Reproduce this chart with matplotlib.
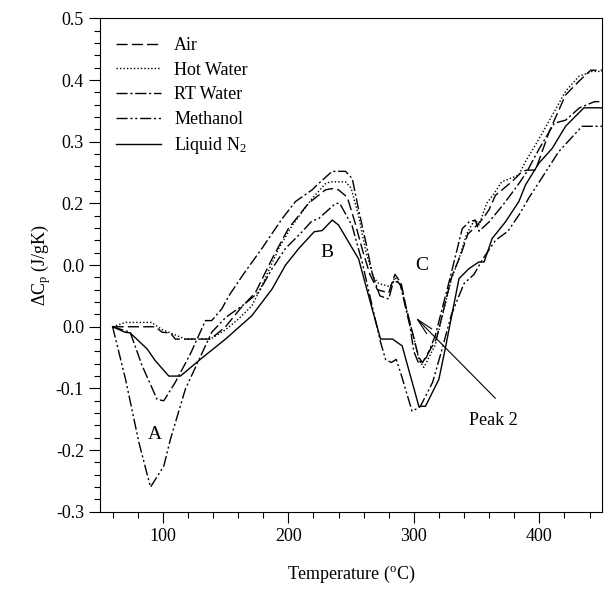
import matplotlib
matplotlib.use("Agg")
import matplotlib.pyplot as plt
from matplotlib.ticker import MultipleLocator, FixedLocator, FixedFormatter

plt.rcParams['font.family'] = ['Liberation Serif', 'DejaVu Serif']
plt.rcParams['mathtext.fontset'] = 'custom'
plt.rcParams['mathtext.rm'] = 'Liberation Serif'
plt.rcParams['mathtext.it'] = 'Liberation Serif:italic'

# --- data ---
air_t = [60, 94, 99.5, 106, 110, 138, 150, 162, 174, 187, 200, 216, 229.6, 235, 240, 247, 253, 259, 265,
         271, 280, 285, 290, 294, 299, 304, 307, 318, 330, 338, 343, 348, 355, 360, 365, 378, 386, 390,
         397, 408, 421, 431.5, 441, 450]
air_v = [0, 0, -0.009, -0.01, -0.02, -0.02, 0.0, 0.03, 0.056, 0.11, 0.159, 0.2, 0.222, 0.224, 0.222, 0.21,
         0.17, 0.125, 0.085, 0.06, 0.055, 0.085, 0.07, 0.03, -0.01, -0.05, -0.058, -0.02, 0.08, 0.12, 0.15,
         0.16, 0.175, 0.19, 0.213, 0.235, 0.251, 0.254, 0.254, 0.317, 0.376, 0.398, 0.416, 0.416]

hot_t = [60, 70, 91, 96, 100, 106, 112, 118, 138, 150, 160, 171, 179, 192.4, 203, 219, 229.6, 233.6, 245.6,
         250, 256, 262, 268, 272, 281, 285, 290, 294, 299, 304, 308, 317, 330, 336, 342, 346, 349, 352,
         358, 364, 370, 383.7, 389, 397, 407.6, 421, 431.5, 442, 450]
hot_v = [0, 0.007, 0.007, 0.0, -0.005, -0.01, -0.015, -0.02, -0.02, -0.005, 0.012, 0.034, 0.067, 0.127,
         0.164, 0.208, 0.232, 0.235, 0.235, 0.225, 0.18, 0.12, 0.08, 0.07, 0.065, 0.08, 0.065, 0.03, -0.01,
         -0.053, -0.066, -0.03, 0.078, 0.11, 0.15, 0.165, 0.173, 0.165, 0.2, 0.216, 0.235, 0.246, 0.268,
         0.295, 0.333, 0.382, 0.406, 0.414, 0.414]

rt_t = [60, 74, 83.5, 95.5, 100.8, 110, 122, 134, 139, 147, 152.6, 164.5, 179, 195, 205.7, 219, 224, 235,
        245.6, 251, 256, 262, 267, 273, 280, 284, 289, 293, 297, 300, 304, 310, 317, 328, 338.6, 344, 349,
        352, 360, 372, 383, 390, 400, 412, 421, 432, 444, 450]
rt_v = [0, -0.009, -0.063, -0.118, -0.12, -0.09, -0.044, 0.01, 0.01, 0.029, 0.05, 0.086, 0.127, 0.175,
        0.203, 0.222, 0.232, 0.252, 0.252, 0.24, 0.19, 0.135, 0.085, 0.05, 0.045, 0.075, 0.07, 0.035, 0.0,
        -0.04, -0.06, -0.05, -0.015, 0.072, 0.159, 0.17, 0.173, 0.155, 0.17, 0.2, 0.23, 0.251, 0.289, 0.33,
        0.335, 0.355, 0.365, 0.365]

meoh_t = [60, 70.3, 81, 90.2, 100.8, 106, 118, 131, 139, 150, 164, 176.5, 187, 197.8, 211, 219, 224, 237.6,
          241, 250.8, 258.8, 266.8, 273.5, 277.5, 282, 286, 289.4, 298.6, 305, 315, 322, 330, 340, 348, 355,
          365, 375, 383.7, 392, 400, 415.5, 434, 450]
meoh_v = [0, -0.085, -0.188, -0.26, -0.226, -0.183, -0.101, -0.044, -0.009, 0.015, 0.035, 0.056, 0.094,
          0.127, 0.154, 0.172, 0.175, 0.2, 0.2, 0.164, 0.105, 0.034, -0.025, -0.053, -0.058, -0.053, -0.074,
          -0.137, -0.13, -0.09, -0.04, 0.02, 0.07, 0.085, 0.11, 0.14, 0.155, 0.181, 0.21, 0.235, 0.284,
          0.325, 0.325]

n2_t = [60, 70, 74, 87.5, 94, 104.8, 114, 131, 150, 171, 187, 197.8, 208.4, 220.6, 227, 235, 240, 256,
        266.8, 273.5, 283, 290.7, 304, 309.3, 320, 325, 336, 343.8, 351.8, 356, 362.4, 373, 383.7, 389,
        399.6, 410.2, 420.9, 435.5, 450]
n2_v = [0, -0.009, -0.01, -0.036, -0.055, -0.08, -0.08, -0.051, -0.02, 0.018, 0.061, 0.1, 0.127, 0.154,
        0.156, 0.173, 0.165, 0.11, 0.029, -0.02, -0.02, -0.031, -0.129, -0.129, -0.085, -0.036, 0.078,
        0.094, 0.105, 0.105, 0.143, 0.17, 0.203, 0.23, 0.265, 0.289, 0.325, 0.355, 0.355]

y_ticks = [-0.3, -0.2, -0.1, 0.0, 0.1, 0.2, 0.3, 0.4, 0.5]
y_labels = ['-0.3', '-0.2', '-0.1', '0.0', '0.0', '0.2', '0.3', '0.4', '0.5']

fig = plt.figure(figsize=(6.1, 5.93), dpi=100)
ax = fig.add_axes([0.164, 0.137, 0.823, 0.832])

lw = 1.0
ax.plot(air_t, air_v, color='black', lw=lw, ls=(0, (8, 3)), label='Air')
ax.plot(hot_t, hot_v, color='black', lw=lw, ls=(0, (1, 1.5)), label='Hot Water')
ax.plot(rt_t, rt_v, color='black', lw=lw, ls=(0, (8, 2, 1.5, 2)), label='RT Water')
ax.plot(meoh_t, meoh_v, color='black', lw=lw, ls=(0, (8, 2, 1.5, 2, 1.5, 2)), label='Methanol')
ax.plot(n2_t, n2_v, color='black', lw=lw, ls='-', label='Liquid N$_2$')

ax.set_xlim(50, 450)
ax.set_ylim(-0.3, 0.5)
ax.xaxis.set_major_locator(FixedLocator([100, 200, 300, 400]))
ax.xaxis.set_minor_locator(MultipleLocator(20))
ax.yaxis.set_major_locator(FixedLocator(y_ticks))
ax.yaxis.set_major_formatter(FixedFormatter(y_labels))
ax.yaxis.set_minor_locator(MultipleLocator(0.02))
ax.tick_params(which='both', direction='out', top=False, right=False, labelsize=13, width=0.8)
ax.tick_params(which='major', length=8)
ax.tick_params(which='minor', length=4)
for s in ax.spines.values():
    s.set_linewidth(0.8)

ax.set_xlabel('Temperature ($^{\\mathrm{o}}$C)', fontsize=13, labelpad=14)
ax.set_ylabel('$\\Delta$C$_\\mathrm{p}$ (J/gK)', fontsize=13, labelpad=2)

ax.text(94, -0.175, 'A', fontsize=14, ha='center', va='center')
ax.text(230.7, 0.121, 'B', fontsize=14, ha='center', va='center')
ax.text(306, 0.099, 'C', fontsize=14, ha='center', va='center')

ax.annotate('', xy=(301.4, 0.015), xytext=(365, -0.116),
            arrowprops=dict(arrowstyle='->,head_length=1.2,head_width=0.25', lw=0.8,
                            color='black', shrinkA=0, shrinkB=0))
ax.text(344, -0.152, 'Peak 2', fontsize=13, ha='left', va='center')

ax.legend(loc='upper left', frameon=False, fontsize=13, handlelength=2.5,
          handletextpad=0.7, labelspacing=0.42, bbox_to_anchor=(0.0, 0.995))

fig.savefig('out.png', dpi=100)
